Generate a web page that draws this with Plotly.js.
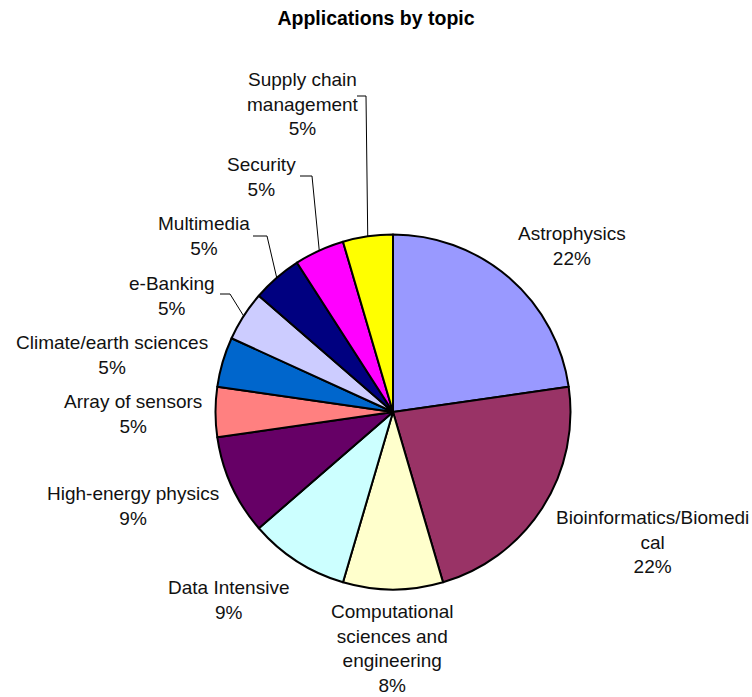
<!DOCTYPE html>
<html>
<head>
<meta charset="utf-8">
<script src="https://cdn.plot.ly/plotly-3.0.1.min.js"></script>
<style>html,body{margin:0;padding:0;background:#fff;}#chart{width:752px;height:697px;}</style>
</head>
<body>
<div id="chart"></div>
<script>
// ---- data ----
const categories = ["Astrophysics", "Bioinformatics/Biomedical", "Computational sciences and engineering",
  "Data Intensive", "High-energy physics", "Array of sensors", "Climate/earth sciences",
  "e-Banking", "Multimedia", "Security", "Supply chain management"];
const values = [5, 5, 2, 2, 2, 1, 1, 1, 1, 1, 1];
const shownPercent = ["22%", "22%", "8%", "9%", "9%", "5%", "5%", "5%", "5%", "5%", "5%"];
const labelLines = [
  ["Astrophysics"],
  ["Bioinformatics/Biomedi", "cal"],
  ["Computational", "sciences and", "engineering"],
  ["Data Intensive"],
  ["High-energy physics"],
  ["Array of sensors"],
  ["Climate/earth sciences"],
  ["e-Banking"],
  ["Multimedia"],
  ["Security"],
  ["Supply chain", "management"]
];
const colors = ["#9999FF", "#993366", "#FFFFCC", "#CCFFFF", "#660066", "#FF8080",
  "#0066CC", "#CCCCFF", "#000080", "#FF00FF", "#FFFF00"];

// ---- layout geometry (pixels) ----
const W = 752, H = 697;
const CX = 393, CY = 412, R = 177.5;
const labelPos = [
  [572, 246], [652, 542], [392, 648], [228, 599.5], [133, 505.5], [133, 414],
  [112, 355], [172, 295.5], [204, 236], [261, 177.5], [303, 104]
];
// leader lines: [startX, startY, elbowX, elbowY] or null
const leaders = [null, null, null, null, null, null, null,
  [220, 294, 230, 294], [253, 236, 267, 236], [300, 176, 312, 176], [357, 96, 366, 96]];

const px = x => x / W;
const py = y => 1 - y / H;

const total = values.reduce((a, b) => a + b, 0);
let cum = 0;
const annotations = [];
const shapes = [];
values.forEach((v, i) => {
  const mid = (cum + v / 2) / total * 2 * Math.PI;
  cum += v;
  const ex = CX + R * Math.sin(mid), ey = CY - R * Math.cos(mid);
  annotations.push({
    xref: "paper", yref: "paper", x: px(labelPos[i][0]), y: py(labelPos[i][1]),
    xanchor: "center", yanchor: "middle", showarrow: false, align: "center",
    text: labelLines[i].concat([shownPercent[i]]).join("<br>"),
    font: {family: "Liberation Sans, Arial, sans-serif", size: 19, color: "#111"}
  });
  const L = leaders[i];
  if (L) {
    shapes.push({
      type: "path", xref: "paper", yref: "paper",
      path: `M ${px(L[0])} ${py(L[1])} L ${px(L[2])} ${py(L[3])} L ${px(ex)} ${py(ey)}`,
      line: {color: "#000", width: 1}
    });
  }
});

const trace = {
  type: "pie",
  labels: categories,
  values: values,
  sort: false,
  direction: "clockwise",
  rotation: 0,
  textinfo: "none",
  marker: {colors: colors, line: {color: "#000", width: 2}},
  domain: {x: [px(CX - R), px(CX + R)], y: [py(CY + R), py(CY - R)]},
  showlegend: false,
  hoverinfo: "label+percent"
};

const layout = {
  width: W, height: H,
  margin: {l: 0, r: 0, t: 0, b: 0},
  paper_bgcolor: "#fff",
  title: {text: "Applications by topic", x: 0.5, xanchor: "center", y: py(18), yanchor: "middle",
    font: {family: "Liberation Sans, Arial, sans-serif", size: 19.5, color: "#000", weight: "bold"}},
  annotations: annotations,
  shapes: shapes
};

Plotly.newPlot("chart", [trace], layout, {displayModeBar: false, staticPlot: true});
</script>
</body>
</html>
